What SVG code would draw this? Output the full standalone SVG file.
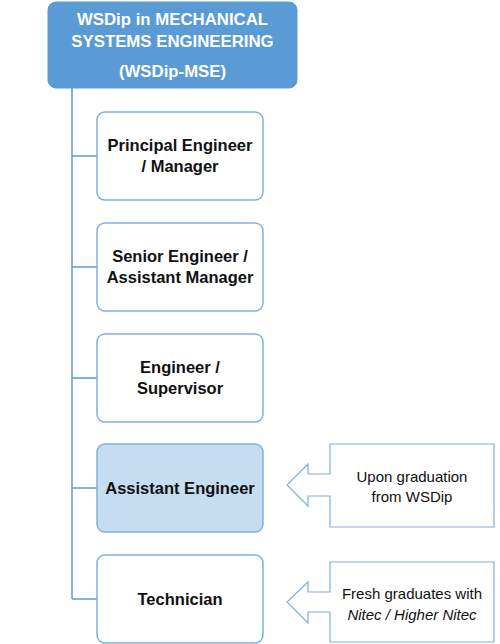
<svg xmlns="http://www.w3.org/2000/svg" width="500" height="644" viewBox="0 0 500 644">
<style>
.hdr{fill:#5b9bd5;stroke:#5b9bd5;stroke-width:1}
.node{fill:#ffffff;stroke:#7fb0e0;stroke-width:1.5}
.node.hl{fill:#c5dcf1}
.t{font-family:"Liberation Sans",Arial,sans-serif;font-weight:bold;font-size:16.5px;fill:#111;text-anchor:middle}
.ht{font-family:"Liberation Sans",Arial,sans-serif;font-weight:bold;font-size:16.8px;fill:#ffffff;text-anchor:middle}
.ct{font-family:"Liberation Sans",Arial,sans-serif;font-size:15px;fill:#111;text-anchor:middle}
.conn{stroke:#5b9bd5;stroke-width:1.5;fill:none}
.call{fill:#ffffff;stroke:#7fb0e0;stroke-width:1.2}
</style>
<g id="connectors">
<path class="conn" d="M72 88 V599 M72 156 H97 M72 267 H97 M72 378 H97 M72 488 H97 M72 599 H97"/>
</g>
<g id="header">
<rect class="hdr" x="48" y="2" width="249" height="86" rx="8"/>
<text class="ht" x="172.5" y="25">WSDip in MECHANICAL</text>
<text class="ht" x="172.5" y="47">SYSTEMS ENGINEERING</text>
<text class="ht" x="172.5" y="77">(WSDip-MSE)</text>
</g>
<g id="n1">
<rect class="node" x="97" y="112" width="166" height="88" rx="8"/>
<text class="t" x="180" y="151">Principal Engineer</text>
<text class="t" x="180" y="172">/ Manager</text>
</g>
<g id="n2">
<rect class="node" x="97" y="223" width="166" height="88" rx="8"/>
<text class="t" x="180" y="262">Senior Engineer /</text>
<text class="t" x="180" y="283">Assistant Manager</text>
</g>
<g id="n3">
<rect class="node" x="97" y="334" width="166" height="88" rx="8"/>
<text class="t" x="180" y="373">Engineer /</text>
<text class="t" x="180" y="394">Supervisor</text>
</g>
<g id="n4">
<rect class="node hl" x="97" y="444" width="166" height="88" rx="8"/>
<text class="t" x="180" y="494">Assistant Engineer</text>
</g>
<g id="n5">
<rect class="node" x="97" y="555" width="166" height="88" rx="8"/>
<text class="t" x="180" y="605">Technician</text>
</g>
<g id="c1">
<path class="call" d="M330 444 H494 V527 H330 V496 H308 V506 L287 485 L308 464 V474 H330 Z"/>
<text class="ct" x="412" y="482">Upon graduation</text>
<text class="ct" x="412" y="502">from WSDip</text>
</g>
<g id="c2">
<path class="call" d="M330 562 H494 V642 H330 V612 H308 V623 L287 602 L308 582 V592 H330 Z"/>
<text class="ct" x="412" y="599">Fresh graduates with</text>
<text class="ct" x="412" y="620" font-style="italic">Nitec / Higher Nitec</text>
</g>
</svg>
